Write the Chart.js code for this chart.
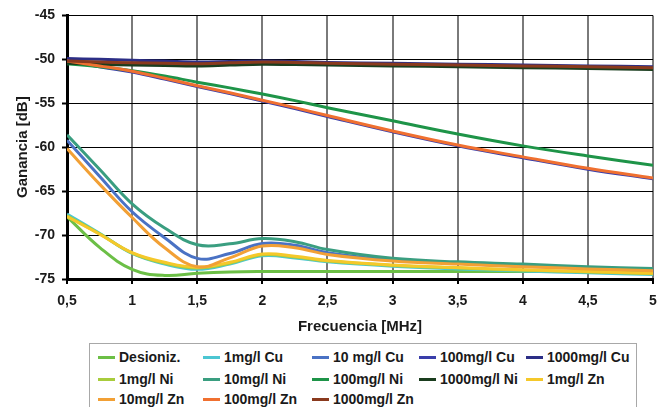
<!DOCTYPE html>
<html>
<head>
<meta charset="utf-8">
<script src="https://cdn.jsdelivr.net/npm/chart.js@4"></script>
<style>
html,body{margin:0;padding:0;background:#fff;}
#wrap{position:relative;width:667px;height:407px;overflow:hidden;background:#fff;}
#c{position:absolute;left:0;top:0;}
#legend{position:absolute;left:89px;top:343px;width:548px;height:80px;border:1px solid #a8a8a8;box-sizing:border-box;background:#fff;}
.li{position:absolute;font:bold 14px "Liberation Sans",Arial,sans-serif;color:#1a1a1a;white-space:nowrap;line-height:16px;}
.sw{position:absolute;height:3px;width:17px;}
</style>
</head>
<body>
<div id="wrap">
<canvas id="c" width="667" height="407"></canvas>
<div id="legend"></div>
</div>
<script>
// ---- data ----
const freqs = [0.5, 0.75, 1, 1.25, 1.5, 1.75, 2, 2.25, 2.5, 3, 3.5, 4, 4.5, 5];
const xTickLabels = ['0,5','1','1,5','2','2,5','3','3,5','4','4,5','5'];
const yTickLabels = ['-75','-70','-65','-60','-55','-50','-45'];

const seriesNames = ['Desioniz.','1mg/l Cu','10 mg/l Cu','100mg/l Cu','1000mg/l Cu',
  '1mg/l Ni','10mg/l Ni','100mg/l Ni','1000mg/l Ni','1mg/l Zn','10mg/l Zn','100mg/l Zn','1000mg/l Zn'];
const seriesColors = ['#6cbf46','#4cc6d2','#4a72c4','#3a3eaa','#2c2e86',
  '#a8cc3c','#3a9e80','#1e9448','#1a3d1e','#f5c82a','#f2a035','#f07030','#8a3a1e'];

const desioniz = [-67.9,-71.4,-73.9,-74.6,-74.35,-74.2,-74.15,-74.15,-74.15,-74.15,-74.15,-74.15,-74.15,-74.15];
const cu1      = [-67.6,-69.8,-72.1,-73.3,-73.9,-73.3,-72.35,-72.6,-73.05,-73.55,-73.85,-74.1,-74.3,-74.5];
const cu10     = [-59.2,-63.3,-67.35,-70.3,-72.65,-72.1,-70.95,-71.15,-72.0,-72.85,-73.2,-73.55,-73.75,-73.95];
const cu100    = [-50.1,-50.85,-51.45,-52.25,-53.1,-53.9,-54.75,-55.6,-56.5,-58.25,-59.85,-61.2,-62.5,-63.6];
const cu1000   = [-49.9,-50.0,-50.1,-50.2,-50.3,-50.25,-50.2,-50.25,-50.35,-50.45,-50.55,-50.65,-50.75,-50.85];
const ni1      = [-67.8,-69.85,-72.05,-73.2,-73.75,-73.2,-72.25,-72.5,-72.95,-73.45,-73.75,-74.0,-74.2,-74.4];
const ni10     = [-58.6,-62.5,-66.45,-69.2,-71.1,-71.0,-70.4,-70.75,-71.65,-72.65,-73.05,-73.3,-73.6,-73.8];
const ni100    = [-50.5,-50.85,-51.3,-51.9,-52.6,-53.25,-53.95,-54.7,-55.5,-57.0,-58.5,-59.85,-61.0,-62.05];
const ni1000   = [-50.45,-50.55,-50.65,-50.7,-50.75,-50.65,-50.55,-50.6,-50.65,-50.75,-50.85,-50.95,-51.05,-51.15];
const zn1      = [-67.9,-69.9,-72.0,-73.1,-73.65,-73.1,-72.15,-72.4,-72.9,-73.4,-73.7,-73.95,-74.15,-74.35];
const zn10     = [-60.15,-64.2,-68.0,-71.45,-73.6,-72.6,-71.25,-71.45,-72.2,-72.95,-73.3,-73.6,-73.85,-74.05];
const zn100    = [-50.2,-50.75,-51.35,-52.15,-53.0,-53.8,-54.65,-55.5,-56.4,-58.15,-59.75,-61.1,-62.4,-63.5];
const zn1000   = [-50.2,-50.3,-50.4,-50.45,-50.5,-50.4,-50.3,-50.35,-50.45,-50.55,-50.65,-50.75,-50.85,-50.95];

const seriesValues = [desioniz, cu1, cu10, cu100, cu1000, ni1, ni10, ni100, ni1000, zn1, zn10, zn100, zn1000];

// ---- chart ----
const FONT = '"Liberation Sans", Arial, sans-serif';
const datasets = seriesValues.map((vals, i) => ({
  label: seriesNames[i],
  data: vals.map((v, k) => ({x: freqs[k], y: v})),
  borderColor: seriesColors[i],
  backgroundColor: seriesColors[i],
  borderWidth: 3,
  pointRadius: 0,
  tension: 0.4,
  fill: false,
  order: -i
}));

new Chart(document.getElementById('c'), {
  type: 'line',
  data: {datasets},
  options: {
    responsive: false,
    animation: false,
    devicePixelRatio: 1,
    layout: {padding: {top: 15, right: 14, left: 0, bottom: 0}},
    plugins: {legend: {display: false}, tooltip: {enabled: false}},
    scales: {
      x: {
        type: 'linear', min: 0.5, max: 5,
        afterFit(s) { s.height = 128; },
        ticks: {
          stepSize: 0.5, padding: 9, color: '#1a1a1a',
          font: {family: FONT, size: 14, weight: 'bold'},
          maxRotation: 0, autoSkip: false,
          callback: (v, idx) => xTickLabels[idx]
        },
        grid: {color: '#7a7a7a', lineWidth: 2, tickColor: '#000', tickLength: 5, tickWidth: 2},
        border: {display: true, color: '#000', width: 3},
        title: {display: true, text: 'Frecuencia [MHz]', color: '#1a1a1a',
          font: {family: FONT, size: 15, weight: 'bold'}, padding: {top: 0, bottom: 71}}
      },
      y: {
        min: -75, max: -45,
        afterFit(s) { s.width = 67; },
        ticks: {
          stepSize: 5, padding: 7, color: '#1a1a1a',
          font: {family: FONT, size: 14, weight: 'bold'},
          callback: (v, idx) => yTickLabels[idx]
        },
        grid: {color: '#000', lineWidth: 1, tickColor: '#000', tickLength: 5, tickWidth: 2},
        border: {display: true, color: '#000', width: 3},
        title: {display: true, text: 'Ganancia [dB]', color: '#1a1a1a',
          font: {family: FONT, size: 15, weight: 'bold'}, padding: {top: 14, bottom: 0}}
      }
    }
  }
});

// ---- legend (HTML) ----
const legend = document.getElementById('legend');
const colLineX = [8, 113, 222, 329, 436];
const rowY = [5, 27, 47];
seriesNames.forEach((name, i) => {
  const r = Math.floor(i / 5), c = i % 5;
  const sw = document.createElement('div');
  sw.className = 'sw';
  sw.style.left = colLineX[c] + 'px';
  sw.style.top = (rowY[r] + 7) + 'px';
  sw.style.background = seriesColors[i];
  legend.appendChild(sw);
  const t = document.createElement('div');
  t.className = 'li';
  t.textContent = name;
  t.style.left = (colLineX[c] + 21) + 'px';
  t.style.top = rowY[r] + 'px';
  legend.appendChild(t);
});
</script>
</body>
</html>
